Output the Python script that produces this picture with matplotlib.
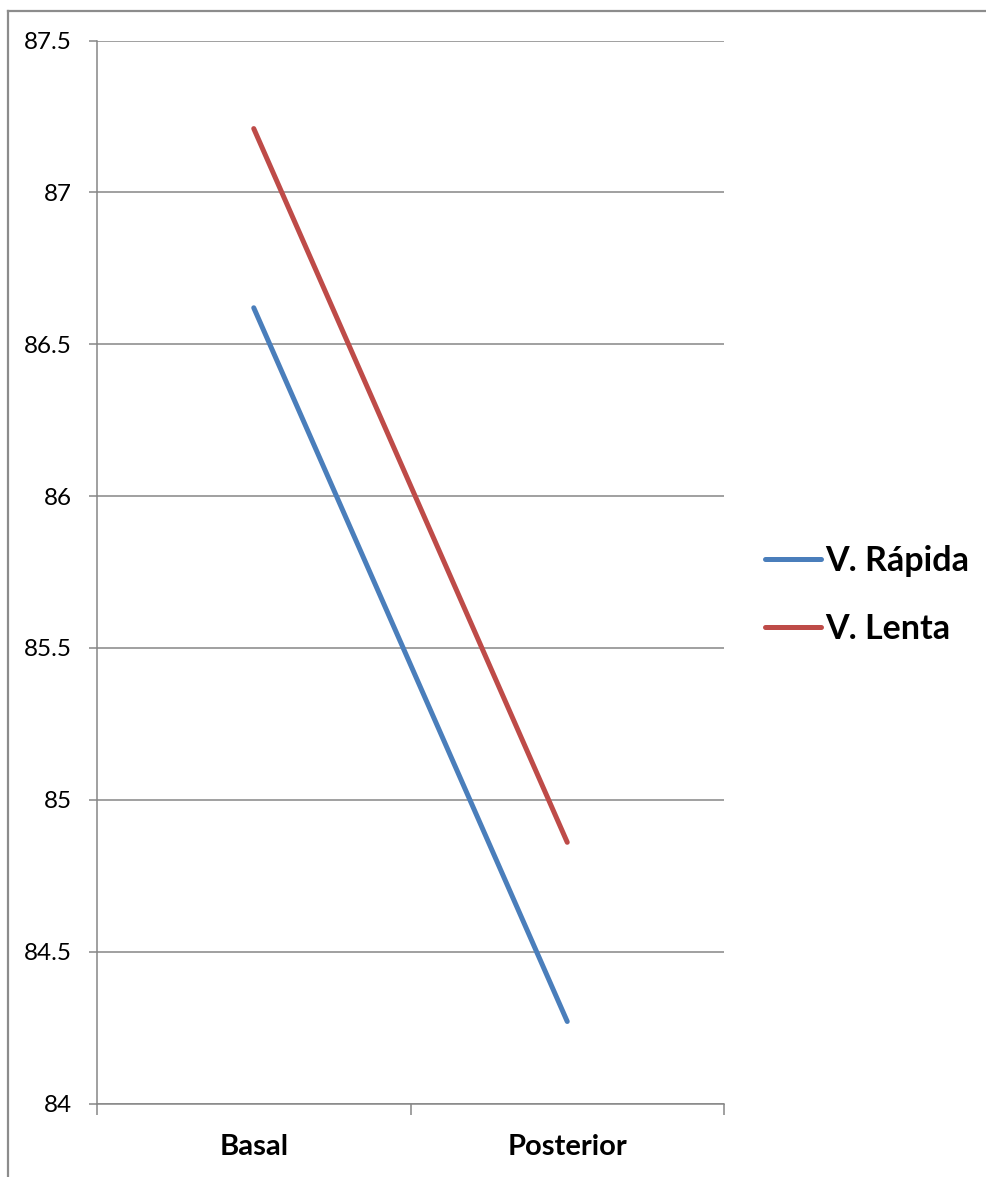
import matplotlib
matplotlib.use("Agg")
import matplotlib.pyplot as plt
from matplotlib.lines import Line2D

plt.rcParams['font.family'] = ['Lato', 'DejaVu Sans']

categories = ["Basal", "Posterior"]
rapida = [86.62, 84.27]
lenta = [87.21, 84.86]
series_names = ["V. Rápida", "V. Lenta"]
y_ticks = [84, 84.5, 85, 85.5, 86, 86.5, 87, 87.5]
y_tick_labels = ["84", "84.5", "85", "85.5", "86", "86.5", "87", "87.5"]

W, H = 986, 1177
fig = plt.figure(figsize=(W / 100, H / 100), dpi=100)
fig.patch.set_facecolor("white")

ax = fig.add_axes([97 / W, 1 - 1103.5 / H, 627 / W, 1063 / H])

grid_c = "#868686"
blue = "#4A7EBB"
red = "#BE4B48"

x = list(range(len(categories)))
ax.plot(x, rapida, color=blue, lw=3.6, solid_capstyle="round", label=series_names[0], zorder=3)
ax.plot(x, lenta, color=red, lw=3.6, solid_capstyle="round", label=series_names[1], zorder=3)

ax.set_xlim(-0.5, len(categories) - 0.5)
ax.set_ylim(84, 87.5)

ax.set_yticks(y_ticks)
ax.set_yticklabels(y_tick_labels)
ax.yaxis.grid(True, color=grid_c, lw=1.1)
ax.set_axisbelow(True)

ax.set_xticks([i - 0.5 for i in range(len(categories) + 1)])
ax.set_xticklabels([])
ax.set_xticks(x, minor=True)
ax.set_xticklabels(categories, minor=True, fontsize=21, fontweight="bold")
ax.tick_params(axis="x", which="minor", length=0, pad=22)
ax.tick_params(axis="x", which="major", length=8, width=1.1, color=grid_c, direction="out")
ax.tick_params(axis="y", length=6, width=1.1, color=grid_c, direction="out", labelsize=17.5, pad=12)

for side in ["top", "right"]:
    ax.spines[side].set_visible(False)
for side in ["left", "bottom"]:
    ax.spines[side].set_color(grid_c)
    ax.spines[side].set_linewidth(1.1)

leg = fig.legend(loc="center left", bbox_to_anchor=(765 / W, 1 - 595 / H),
                 frameon=False, handlelength=1.65, handletextpad=0.12,
                 borderpad=0, borderaxespad=0, labelspacing=1.05,
                 prop={"weight": "bold", "size": 24.5})

# outer chart frame
frame_c = "#8c8c8c"
fig.add_artist(Line2D([8 / W, 1], [1 - 10.5 / H, 1 - 10.5 / H], color=frame_c, lw=1.6,
                      transform=fig.transFigure))
fig.add_artist(Line2D([8 / W, 8 / W], [0, 1 - 10.5 / H], color=frame_c, lw=1.6,
                      transform=fig.transFigure))

fig.savefig("out.png", dpi=100, facecolor="white")
